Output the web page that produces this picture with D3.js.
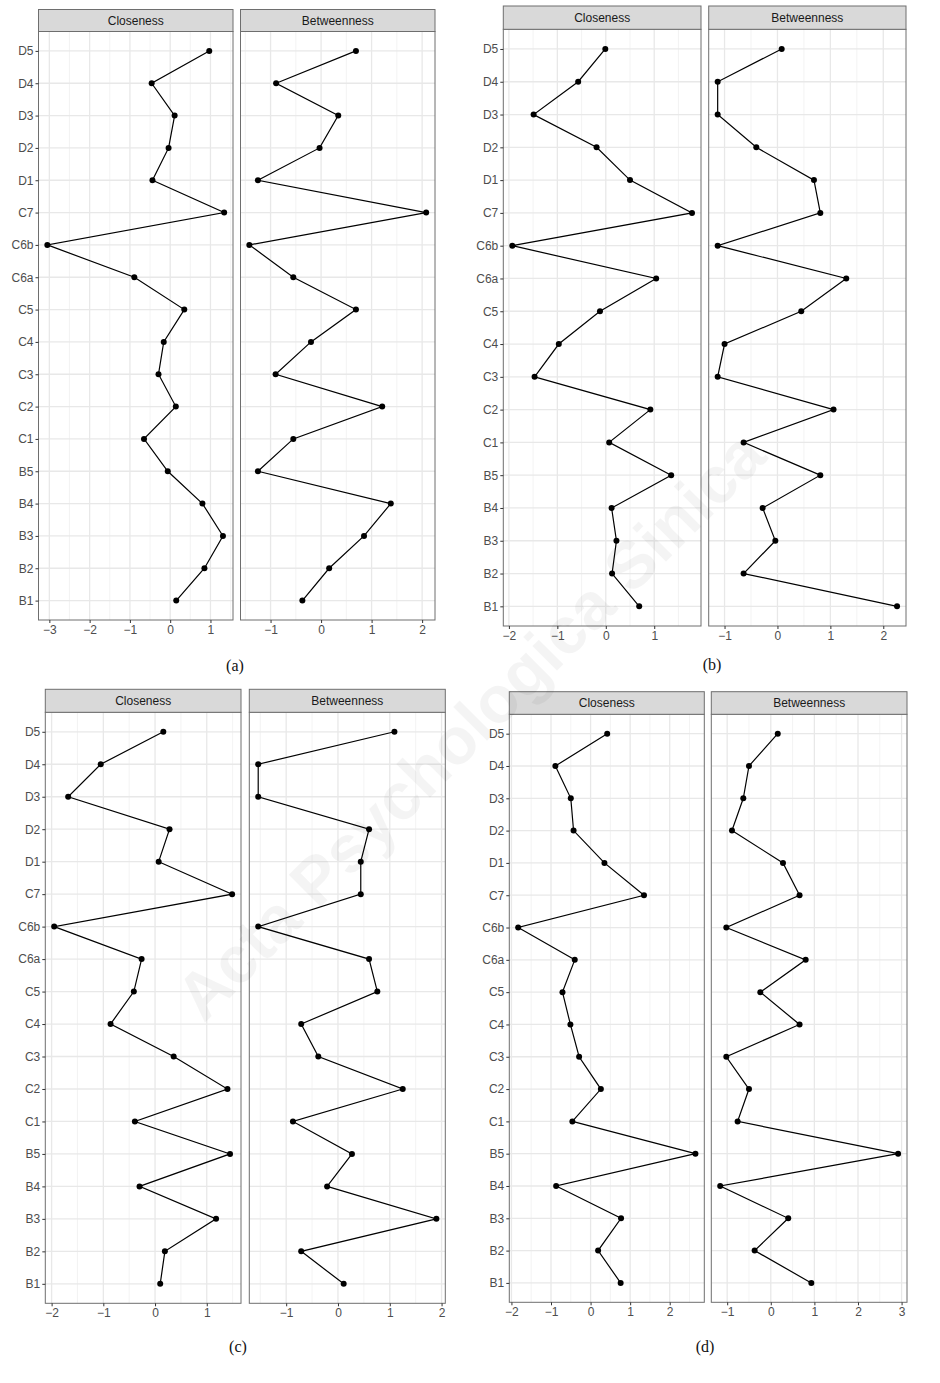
<!DOCTYPE html>
<html>
<head>
<meta charset="utf-8">
<script src="https://cdn.jsdelivr.net/npm/d3@7"></script>
<style>
  body { margin: 0; background: #fff; }
</style>
</head>
<body>
<svg id="chart"></svg>
<script>
// node labels, top to bottom
const labels = ['D5', 'D4', 'D3', 'D2', 'D1', 'C7', 'C6b', 'C6a', 'C5', 'C4', 'C3', 'C2', 'C1', 'B5', 'B4', 'B3', 'B2', 'B1'];

// (a)
const closeA = [0.97, -0.46, 0.11, -0.04, -0.44, 1.34, -3.05, -0.89, 0.35, -0.16, -0.29, 0.14, -0.65, -0.06, 0.80, 1.31, 0.85, 0.15];
const betwA = [0.69, -0.89, 0.34, -0.03, -1.25, 2.08, -1.42, -0.55, 0.69, -0.20, -0.90, 1.21, -0.55, -1.25, 1.38, 0.85, 0.16, -0.37];
// (b)
const closeB = [-0.01, -0.57, -1.49, -0.19, 0.50, 1.78, -1.93, 1.04, -0.12, -0.97, -1.47, 0.92, 0.07, 1.35, 0.12, 0.22, 0.13, 0.69];
const betwB = [0.08, -1.13, -1.13, -0.40, 0.69, 0.81, -1.13, 1.30, 0.45, -1.00, -1.13, 1.06, -0.64, 0.81, -0.28, -0.04, -0.64, 2.26];
// (c)
const closeC = [0.16, -1.05, -1.68, 0.28, 0.07, 1.49, -1.95, -0.26, -0.41, -0.86, 0.36, 1.40, -0.39, 1.45, -0.30, 1.18, 0.19, 0.10];
const betwC = [1.09, -1.54, -1.54, 0.60, 0.44, 0.44, -1.54, 0.60, 0.76, -0.71, -0.38, 1.25, -0.87, 0.27, -0.21, 1.90, -0.71, 0.11];
// (d)
const closeD = [0.42, -0.89, -0.50, -0.43, 0.35, 1.35, -1.83, -0.40, -0.71, -0.51, -0.29, 0.26, -0.46, 2.65, -0.87, 0.77, 0.19, 0.76];
const betwD = [0.16, -0.50, -0.63, -0.89, 0.28, 0.66, -1.02, 0.80, -0.24, 0.66, -1.02, -0.50, -0.76, 2.92, -1.16, 0.40, -0.37, 0.93];

// tick labels
const ticksCloseA = [-3, -2, -1, 0, 1];
const ticksBetwA = [-1, 0, 1, 2];
const ticksCloseB = [-2, -1, 0, 1];
const ticksBetwB = [-1, 0, 1, 2];
const ticksCloseC = [-2, -1, 0, 1];
const ticksBetwC = [-1, 0, 1, 2];
const ticksCloseD = [-2, -1, 0, 1, 2];
const ticksBetwD = [-1, 0, 1, 2, 3];

const facetNames = ['Closeness', 'Betweenness'];

const width = 940;
const height = 1383;
const sans = '"Liberation Sans", Arial, sans-serif';

// where each sub-figure sits on the page
const panels = [
  { cap: '(a)', data: [closeA, betwA], ticks: [ticksCloseA, ticksBetwA],
    xs: [[38.5, 233], [240.5, 435]], stripTop: 9.5, top: 31.5, bottom: 620, capPos: [235, 671] },
  { cap: '(b)', data: [closeB, betwB], ticks: [ticksCloseB, ticksBetwB],
    xs: [[503.3, 701], [708.7, 906]], stripTop: 6, top: 29.3, bottom: 626, capPos: [712, 670] },
  { cap: '(c)', data: [closeC, betwC], ticks: [ticksCloseC, ticksBetwC],
    xs: [[45.3, 241], [249.3, 445.3]], stripTop: 689.3, top: 712.3, bottom: 1303.3, capPos: [238, 1352] },
  { cap: '(d)', data: [closeD, betwD], ticks: [ticksCloseD, ticksBetwD],
    xs: [[509.3, 704.3], [711.3, 907]], stripTop: 691.7, top: 714.3, bottom: 1302.3, capPos: [705, 1352] }
];

const svg = d3.select('#chart')
  .attr('width', width)
  .attr('height', height)
  .attr('viewBox', [0, 0, width, height]);

svg.append('rect').attr('width', width).attr('height', height).attr('fill', '#fff');

const fmt = (v) => (v < 0 ? '\u2212' + Math.abs(v) : String(v));

panels.forEach((p) => {
  const g = svg.append('g');
  const y = d3.scalePoint()
    .domain(labels)
    .range([p.top, p.bottom])
    .padding(0.6);

  p.data.forEach((vals, fi) => {
    const [x0, x1] = p.xs[fi];
    // ggplot-style 5% expansion
    const [mn, mx] = d3.extent(vals);
    const pad = (mx - mn) * 0.05;
    const x = d3.scaleLinear().domain([mn - pad, mx + pad]).range([x0, x1]);
    const fg = g.append('g');

    fg.append('rect')
      .attr('x', x0).attr('y', p.top)
      .attr('width', x1 - x0).attr('height', p.bottom - p.top)
      .attr('fill', '#fff');

    // minor grid
    const major = p.ticks[fi];
    const minor = [];
    major.forEach((t) => {
      [t - 0.5, t + 0.5].forEach((m) => {
        if (m > x.domain()[0] && m < x.domain()[1] && !minor.includes(m)) minor.push(m);
      });
    });
    fg.selectAll('.minor').data(minor).join('line')
      .attr('x1', (d) => x(d)).attr('x2', (d) => x(d))
      .attr('y1', p.top).attr('y2', p.bottom)
      .attr('stroke', '#f0f0f0').attr('stroke-width', 0.8);
    // major grid
    fg.selectAll('.vmajor').data(major).join('line')
      .attr('x1', (d) => x(d)).attr('x2', (d) => x(d))
      .attr('y1', p.top).attr('y2', p.bottom)
      .attr('stroke', '#e8e8e8').attr('stroke-width', 1.3);
    fg.selectAll('.hmajor').data(labels).join('line')
      .attr('x1', x0).attr('x2', x1)
      .attr('y1', (d) => y(d)).attr('y2', (d) => y(d))
      .attr('stroke', '#e8e8e8').attr('stroke-width', 1.3);

    const pts = labels.map((l, i) => ({ l, v: vals[i] }));
    fg.append('path')
      .datum(pts)
      .attr('fill', 'none')
      .attr('stroke', '#000')
      .attr('stroke-width', 1.2)
      .attr('d', d3.line().x((d) => x(d.v)).y((d) => y(d.l)));
    fg.selectAll('circle').data(pts).join('circle')
      .attr('cx', (d) => x(d.v)).attr('cy', (d) => y(d.l))
      .attr('r', 3).attr('fill', '#000');

    // border
    fg.append('rect')
      .attr('x', x0).attr('y', p.top)
      .attr('width', x1 - x0).attr('height', p.bottom - p.top)
      .attr('fill', 'none').attr('stroke', '#6e6e6e').attr('stroke-width', 1);

    // strip
    fg.append('rect')
      .attr('x', x0).attr('y', p.stripTop)
      .attr('width', x1 - x0).attr('height', p.top - p.stripTop)
      .attr('fill', '#d9d9d9').attr('stroke', '#6e6e6e').attr('stroke-width', 1);
    fg.append('text')
      .attr('x', (x0 + x1) / 2).attr('y', (p.stripTop + p.top) / 2)
      .attr('dy', '0.35em')
      .attr('text-anchor', 'middle')
      .attr('font-family', sans)
      .attr('font-size', 12)
      .attr('fill', '#1a1a1a')
      .text(facetNames[fi]);

    // x axis
    fg.append('g')
      .attr('transform', `translate(0,${p.bottom})`)
      .call(d3.axisBottom(x).tickValues(major).tickFormat(fmt).tickSize(3).tickPadding(2))
      .call((a) => a.select('.domain').remove())
      .call((a) => a.selectAll('.tick line').attr('stroke', '#333'))
      .call((a) => a.selectAll('.tick text').attr('fill', '#4d4d4d').attr('font-size', 12)
        .attr('font-family', sans));
  });

  // y axis on the left facet only
  g.append('g')
    .attr('transform', `translate(${p.xs[0][0]},0)`)
    .call(d3.axisLeft(y).tickSize(3).tickPadding(2))
    .call((a) => a.select('.domain').remove())
    .call((a) => a.selectAll('.tick line').attr('stroke', '#333'))
    .call((a) => a.selectAll('.tick text').attr('fill', '#4d4d4d').attr('font-size', 12)
      .attr('font-family', sans));

  g.append('text')
    .attr('x', p.capPos[0]).attr('y', p.capPos[1])
    .attr('text-anchor', 'middle')
    .attr('font-family', '"Liberation Serif", "Times New Roman", serif')
    .attr('font-size', 16)
    .attr('fill', '#111')
    .text(p.cap);
});

// journal watermark
svg.append('text')
  .attr('transform', 'translate(470,725) rotate(-45)')
  .attr('text-anchor', 'middle')
  .attr('dy', '0.35em')
  .attr('font-family', sans)
  .attr('font-size', 66)
  .attr('font-weight', 'bold')
  .attr('fill', '#000')
  .attr('fill-opacity', 0.045)
  .text('Acta Psychologica Sinica');
</script>
</body>
</html>
